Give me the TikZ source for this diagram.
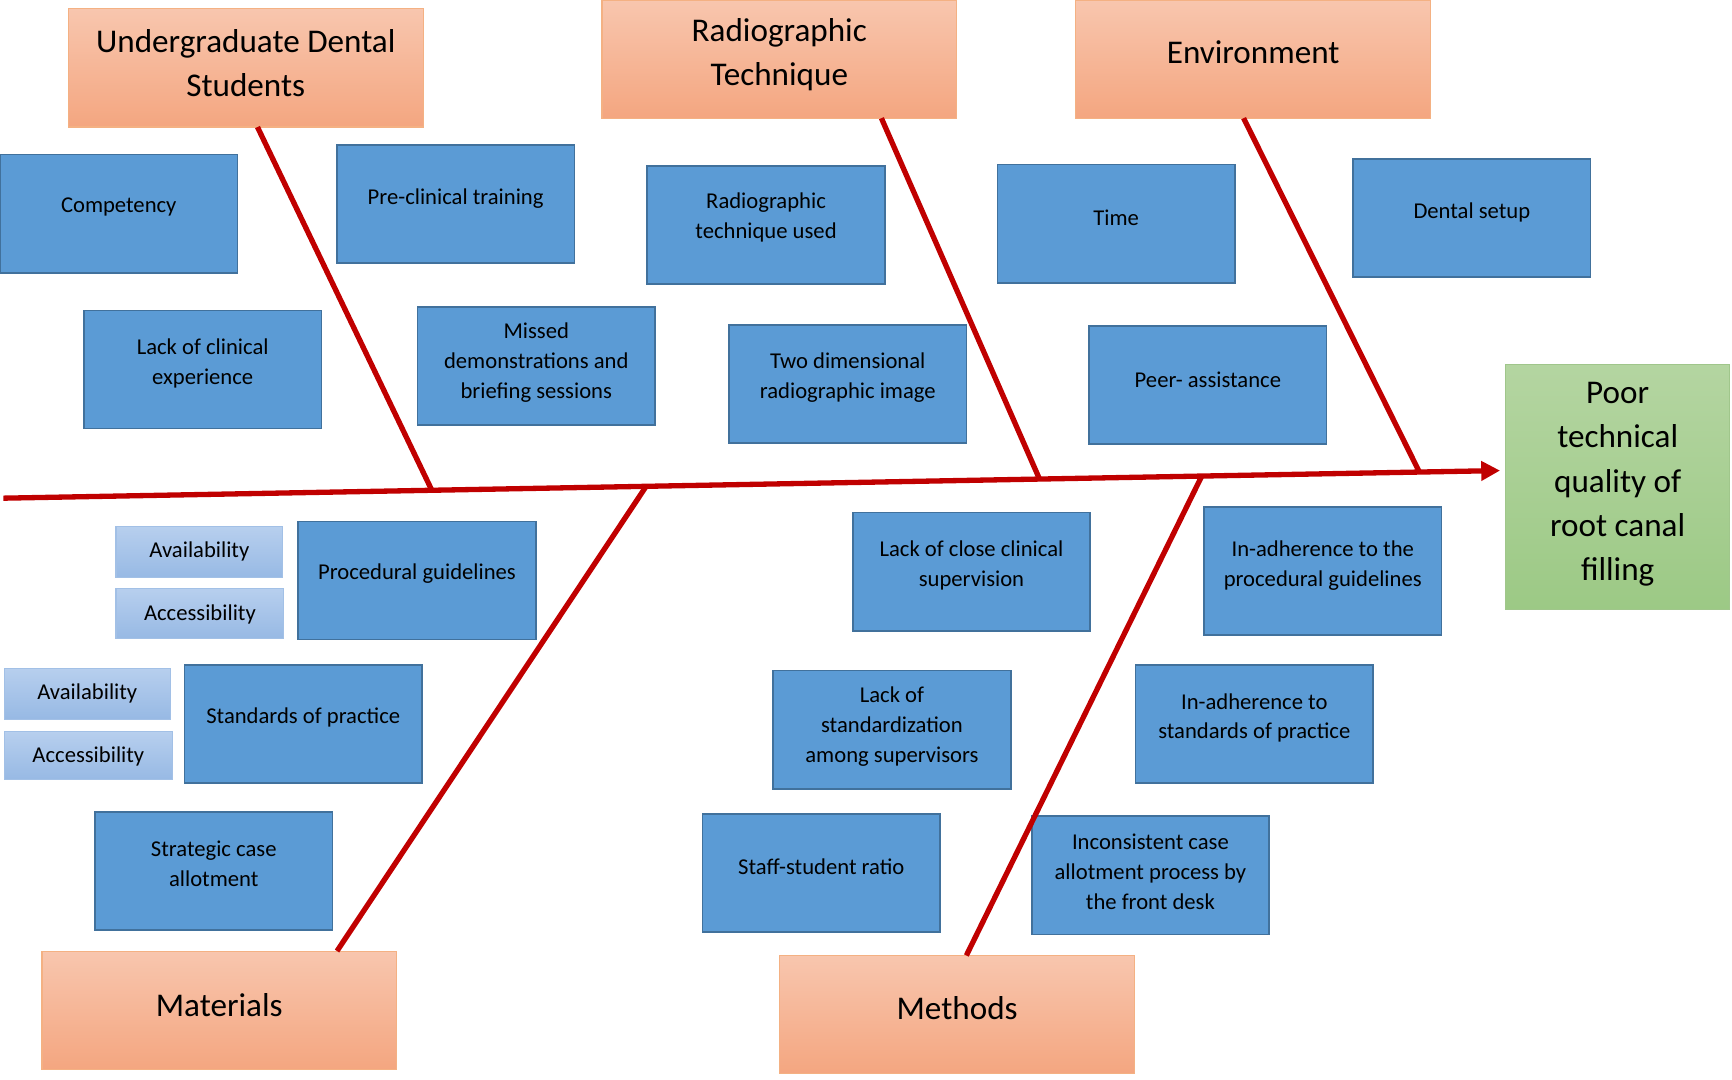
\documentclass[tikz,border=0pt]{standalone}
\usepackage{fontspec}
\setmainfont{Carlito}
\usetikzlibrary{calc,arrows.meta}
\definecolor{bfill}{HTML}{5B9BD5}
\definecolor{bline}{HTML}{41719C}
\definecolor{otop}{HTML}{F8C6AE}
\definecolor{obot}{HTML}{F4A680}
\definecolor{oline}{HTML}{F4B183}
\definecolor{gtop}{HTML}{B4D5A1}
\definecolor{gbot}{HTML}{9CC985}
\definecolor{gline}{HTML}{A0C68B}
\definecolor{ltop}{HTML}{B7CFEE}
\definecolor{lbot}{HTML}{97B9E4}
\definecolor{lline}{HTML}{A2C0E6}
\definecolor{bonecol}{HTML}{C00000}
\begin{document}
\begin{tikzpicture}[x=1pt,y=-1pt,
  box/.style={anchor=north west, inner sep=0pt, outer sep=0pt, rectangle},
  bluebox/.style={box, draw=bline, fill=bfill, line width=1.5pt, minimum width=215, minimum height=107},
  titlebox/.style={box, draw=oline, top color=otop, bottom color=obot, line width=1pt, minimum width=321, minimum height=107},
  effectbox/.style={box, draw=gline, top color=gtop, bottom color=gbot, line width=1pt, minimum width=203, minimum height=222},
  lightbox/.style={box, draw=lline, top color=ltop, bottom color=lbot, line width=1pt, minimum height=46},
  btxt/.style={align=center, inner sep=0pt, yshift=-2.5pt, font=\fontsize{20.5}{27}\selectfont},
  ttxt/.style={align=center, inner sep=0pt, yshift=-2.5pt, font=\fontsize{30}{40}\selectfont},
  bonestyle/.style={draw=bonecol, line width=4.8pt},
]
\useasboundingbox (0,0) rectangle (1568,977);

% ---------- category boxes ----------
\node[titlebox] (uds) at (62,8) {};
\node[ttxt] (udst) at ($(uds.center)+(0,-6.5)$) {Undergraduate Dental\\Students};
\node[titlebox] (rt) at (545,0) {};
\node[ttxt] (rtt) at ($(rt.center)+(0,-6.5)$) {Radiographic\\Technique};
\node[titlebox] (env) at (974,0) {};
\node[ttxt] (envt) at ($(env.center)+(0,-8.5)$) {Environment};
\node[titlebox] (mat) at (38,861) {};
\node[ttxt] (matt) at ($(mat.center)+(0,-7.5)$) {Materials};
\node[titlebox] (meth) at (706,865) {};
\node[ttxt] (metht) at ($(meth.center)+(0,-8.5)$) {Methods};

% ---------- effect ----------
\node[effectbox] (eff) at (1363,330) {};
\node[ttxt] (efft) at ($(eff.center)+(0,-5)$) {Poor\\technical\\quality of\\root canal\\filling};

% ---------- cause boxes ----------
\node[bluebox] (c1) at (0,140) {};
\node[btxt] at ($(c1.center)+(0,-8.5)$) {Competency};
\node[bluebox] (c2) at (305,131) {};
\node[btxt] at ($(c2.center)+(0,-7.5)$) {Pre-clinical training};
\node[bluebox] (c3) at (76,281) {};
\node[btxt] at ($(c3.center)+(0,-8)$) {Lack of clinical\\experience};
\node[bluebox] (c4) at (378,278) {};
\node[btxt] at ($(c4.center)+(0,-5.5)$) {Missed\\demonstrations and\\briefing sessions};
\node[bluebox] (c5) at (586,150) {};
\node[btxt] at ($(c5.center)+(0,-9)$) {Radiographic\\technique used};
\node[bluebox] (c6) at (660,294) {};
\node[btxt] at ($(c6.center)+(0,-8.5)$) {Two dimensional\\radiographic image};
\node[bluebox] (c7) at (903,149) {};
\node[btxt] at ($(c7.center)+(0,-7.5)$) {Time};
\node[bluebox] (c8) at (986,295) {};
\node[btxt] at ($(c8.center)+(0,-7.5)$) {Peer- assistance};
\node[bluebox] (c9) at (1225,144) {};
\node[btxt] at ($(c9.center)+(0,-7.5)$) {Dental setup};

\node[bluebox] (c10) at (270,472) {};
\node[btxt] at ($(c10.center)+(0,-8.5)$) {Procedural guidelines};
\node[lightbox, minimum width=151] (l1) at (105,477) {};
\node[btxt] at ($(l1.center)+(0,-3)$) {Availability};
\node[lightbox, minimum width=152, minimum height=45] (l2) at (105,533) {};
\node[btxt] at ($(l2.center)+(0,-1.5)$) {Accessibility};
\node[lightbox, minimum width=150] (l3) at (4,605) {};
\node[btxt] at ($(l3.center)+(0,-3)$) {Availability};
\node[lightbox, minimum width=152, minimum height=44] (l4) at (4,662) {};
\node[btxt] at ($(l4.center)+(0,-2)$) {Accessibility};
\node[bluebox] (c11) at (167,602) {};
\node[btxt] at ($(c11.center)+(0,-8.5)$) {Standards of practice};
\node[bluebox] (c12) at (86,735) {};
\node[btxt] at ($(c12.center)+(0,-9)$) {Strategic case\\allotment};

\node[bluebox] (c13) at (772,464) {};
\node[btxt] at ($(c13.center)+(0,-8)$) {Lack of close clinical\\supervision};
\node[bluebox, minimum height=116] (c14) at (1090,459) {};
\node[btxt] at ($(c14.center)+(0,-7.5)$) {In-adherence to the\\procedural guidelines};
\node[bluebox] (c15) at (700,607) {};
\node[btxt] at ($(c15.center)+(0,-5)$) {Lack of\\standardization\\among supervisors};
\node[bluebox] (c16) at (1028,602) {};
\node[btxt] at ($(c16.center)+(0,-8)$) {In-adherence to\\standards of practice};
\node[bluebox] (c17) at (636,737) {};
\node[btxt] at ($(c17.center)+(0,-8.5)$) {Staff-student ratio};
\node[bluebox] (c18) at (934,739) {};
\node[btxt] at ($(c18.center)+(0,-5.5)$) {Inconsistent case\\allotment process by\\the front desk};

% ---------- spine and bones ----------
\coordinate (sp0) at (3,451);
\coordinate (sp1) at (1358,426);
\coordinate (j1) at ($(sp0)!0.2863!(sp1)$);
\coordinate (j2) at ($(sp0)!0.6923!(sp1)$);
\coordinate (j3) at ($(sp0)!0.9461!(sp1)$);
\coordinate (j4) at ($(sp0)!0.4295!(sp1)$);
\coordinate (j5) at ($(sp0)!0.8007!(sp1)$);

\draw[bonestyle, -{Triangle[length=17pt,width=17pt]}] (sp0) -- (sp1);
\draw[bonestyle] ($(uds.south west)!0.533!(uds.south east)$) -- (j1);
\draw[bonestyle] ($(rt.south west)!0.788!(rt.south east)$) -- (j2);
\draw[bonestyle] ($(env.south west)!0.473!(env.south east)$) -- (j3);
\draw[bonestyle] ($(mat.north west)!0.832!(mat.north east)$) -- (j4);
\draw[bonestyle] ($(meth.north west)!0.526!(meth.north east)$) -- (j5);
\end{tikzpicture}
\end{document}
